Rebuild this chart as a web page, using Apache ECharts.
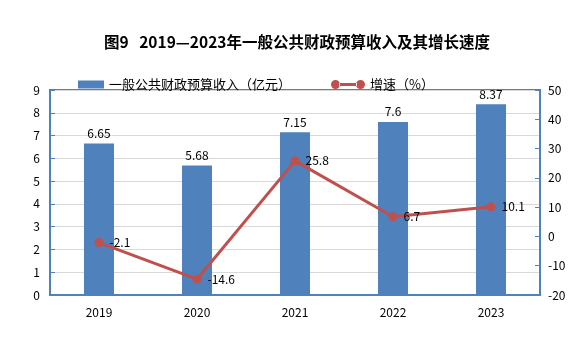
<!DOCTYPE html>
<html><head><meta charset="utf-8">
<script src="https://cdn.jsdelivr.net/npm/echarts@6/dist/echarts.min.js"></script>
<style>html,body{margin:0;padding:0;background:#fff}#c{width:584px;height:344px}</style>
</head><body><div id="c"></div>
<script>
const categories = ['2019','2020','2021','2022','2023'];
const revenue = [6.65, 5.68, 7.15, 7.6, 8.37];
const growth = [-2.1, -14.6, 25.8, 6.7, 10.1];
const leftTicks = [0, 9, 1];
const rightTicks = [-20, 50, 10];
const titleText = '图9\u00a0\u00a0 2019—2023年一般公共财政预算收入及其增长速度';
const seriesNames = ['一般公共财政预算收入（亿元）', '增速（%）'];

const font = '"Microsoft YaHei","Noto Sans CJK SC",sans-serif';
const lineIcon = 'path://M0,4.5a4.5,4.5 0 1,0 9,0a4.5,4.5 0 1,0 -9,0ZM25,4.5a4.5,4.5 0 1,0 9,0a4.5,4.5 0 1,0 -9,0ZM8,3L26,3L26,6L8,6Z';
const chart = echarts.init(document.getElementById('c'), null, {renderer:'canvas'});
chart.setOption({
  animation: false,
  backgroundColor: '#fff',
  title: {
    text: titleText, left: 99, top: 29,
    textStyle: {fontSize: 15.5, fontWeight: 'bold', color: '#000', fontFamily: font}
  },
  legend: [
    {
      top: 73, left: 73,
      textStyle: {fontSize: 13, color: '#000', fontFamily: font},
      data: [{name: seriesNames[0], icon: 'rect', itemStyle: {color: '#4F81BD'}}],
      itemWidth: 26, itemHeight: 8
    },
    {
      top: 73, left: 326,
      textStyle: {fontSize: 13, color: '#000', fontFamily: font},
      data: [{name: seriesNames[1], icon: lineIcon, itemStyle: {color: '#C0504D'}}],
      itemWidth: 34, itemHeight: 9
    }
  ],
  grid: {left: 50, right: 44, top: 90, bottom: 49, show: true, borderColor: '#4F81BD', borderWidth: 2, containLabel: false},
  xAxis: {
    type: 'category', data: categories,
    axisLine: {lineStyle: {color: '#4F81BD', width: 2}},
    axisTick: {show: false},
    axisLabel: {color: '#000', fontSize: 12, margin: 11, fontFamily: font}
  },
  yAxis: [
    {
      type: 'value', min: leftTicks[0], max: leftTicks[1], interval: leftTicks[2],
      axisLine: {show: true, lineStyle: {color: '#4F81BD', width: 2}},
      axisTick: {show: true, inside: true, length: 5, lineStyle: {color: '#4F81BD'}},
      splitLine: {show: true, lineStyle: {color: '#D9D9D9', width: 1}},
      axisLabel: {color: '#000', fontSize: 12, margin: 10, fontFamily: font}
    },
    {
      type: 'value', min: rightTicks[0], max: rightTicks[1], interval: rightTicks[2],
      position: 'right',
      axisLine: {show: true, lineStyle: {color: '#4F81BD', width: 2}},
      axisTick: {show: true, inside: true, length: 5, lineStyle: {color: '#4F81BD'}},
      splitLine: {show: false},
      axisLabel: {color: '#000', fontSize: 12, margin: 8, fontFamily: font}
    }
  ],
  series: [
    {
      name: seriesNames[0], type: 'bar', data: revenue, barWidth: 30,
      itemStyle: {color: '#4F81BD'},
      label: {show: true, position: 'top', color: '#000', fontSize: 12, distance: 4, fontFamily: font}
    },
    {
      name: seriesNames[1], type: 'line', yAxisIndex: 1, data: growth,
      symbol: 'circle', symbolSize: 9,
      lineStyle: {color: '#C0504D', width: 3},
      itemStyle: {color: '#C0504D'},
      label: {show: true, position: 'right', color: '#000', fontSize: 12, distance: 6, fontFamily: font}
    }
  ]
});
</script></body></html>
